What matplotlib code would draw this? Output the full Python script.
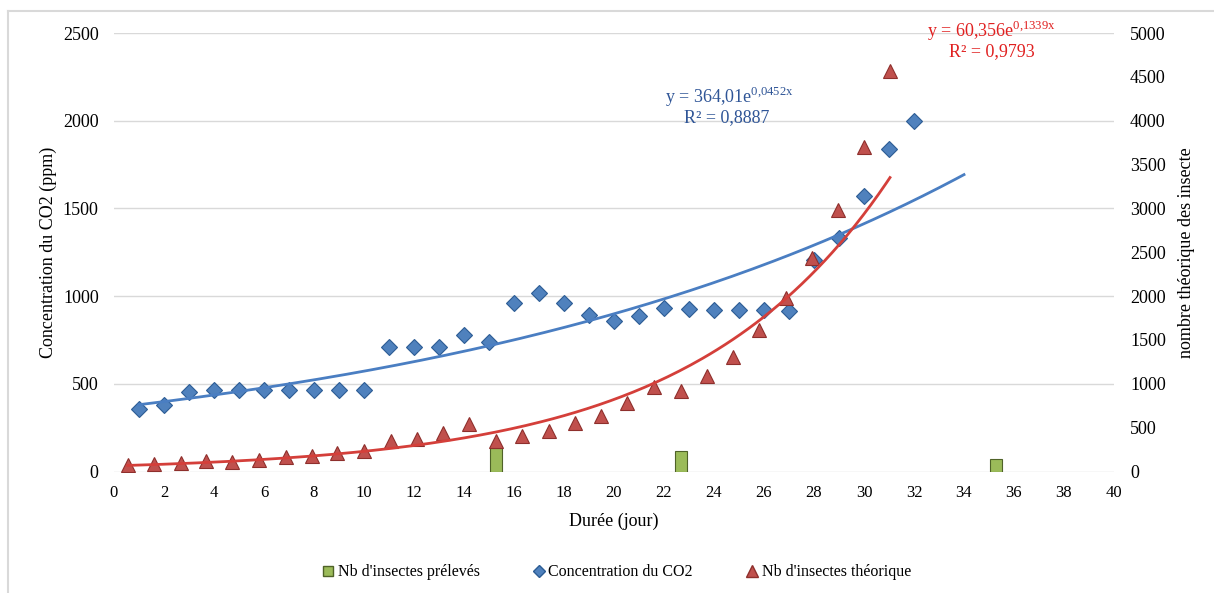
import numpy as np
import matplotlib
matplotlib.use("Agg")
import matplotlib.pyplot as plt
from matplotlib.lines import Line2D

plt.rcParams['font.family'] = ['Liberation Serif', 'DejaVu Serif']
plt.rcParams['mathtext.fontset'] = 'custom'
plt.rcParams['mathtext.rm'] = 'Liberation Serif'

# CO2 concentration (left axis)
co2_days = list(range(1, 33))
co2_ppm = [355, 379, 455, 465, 465, 465, 465, 465, 465, 465, 708, 708, 708, 778, 740, 959,
           1019, 962, 892, 860, 888, 930, 926, 919, 919, 919, 917, 1206, 1329, 1572, 1840, 2000]

# theoretical number of insects (right axis)
theo_days = [0.55, 1.60, 2.68, 3.68, 4.73, 5.81, 6.87, 7.93, 8.93, 10.0, 11.07, 12.13, 13.17,
             14.21, 15.28, 16.30, 17.39, 18.45, 19.48, 20.53, 21.60, 22.67, 23.70, 24.75,
             25.80, 26.88, 27.93, 28.96, 30.0, 31.04]
theo_nb = [74, 82, 93, 120, 112, 131, 162, 177, 207, 230, 351, 367, 443, 542, 351, 405, 462,
           557, 637, 785, 960, 918, 1092, 1309, 1613, 1975, 2435, 2980, 3695, 4570]

# insects sampled
prel_days = [15.28, 22.67, 35.28]
prel_nb = [132, 117, 70]

# exponential trendlines
co2_a, co2_b = 364.01, 0.0452
theo_a, theo_b = 60.356, 0.1339

fig = plt.figure(figsize=(12.14, 5.93), dpi=100)
ax = fig.add_axes([114 / 1214, 121.5 / 593, 1000 / 1214, 438.5 / 593])
ax2 = ax.twinx()

ax.bar(prel_days, prel_nb, width=0.5, color='#9BBB59', edgecolor='#4F6228', linewidth=0.8, zorder=2)
ax.plot(co2_days, co2_ppm, 'D', ms=8.5, color='#4F81BD', mec='#2C5C94', mew=0.8, zorder=3)
xt = np.linspace(1, 34, 200)
ax.plot(xt, co2_a * np.exp(co2_b * xt), color='#4A7EC2', lw=2, zorder=4)

ax2.plot(theo_days, theo_nb, '^', ms=10.5, color='#C0504D', mec='#8E2F2C', mew=0.8, zorder=3)
t = np.linspace(1, 30, 200)
xr = theo_days[0] + (t - 1) * (theo_days[-1] - theo_days[0]) / 29
ax2.plot(xr, theo_a * np.exp(theo_b * t), color='#D43F3A', lw=2, zorder=4)

ax.set_xlim(0, 40)
ax.set_ylim(0, 2500)
ax2.set_ylim(0, 5000)
ax.set_xticks(np.arange(0, 41, 2))
ax.set_yticks(np.arange(0, 2501, 500))
ax2.set_yticks(np.arange(0, 5001, 500))
ax.grid(axis='y', color='#D9D9D9', lw=1)
ax.set_axisbelow(True)
for a in (ax, ax2):
    for s in a.spines.values():
        s.set_visible(False)
ax.tick_params(axis='both', length=0, labelsize=13)
ax.tick_params(axis='y', pad=11)
ax.tick_params(axis='x', pad=10, labelsize=12)
ax2.tick_params(axis='y', length=0, labelsize=13, pad=11.5)

ax.set_xlabel('Durée (jour)', fontsize=13, labelpad=8)
ax.set_ylabel('Concentration du CO2 (ppm)', fontsize=13, labelpad=4)
ax2.set_ylabel('nombre théorique des insecte', fontsize=13, labelpad=8.5)

ax.text(24.6, 2135, r'y = 364,01e$^{\mathrm{0{,}0452x}}$', color='#2F5597', fontsize=13,
        ha='center', va='center')
ax.text(24.5, 2020, 'R² = 0,8887', color='#2F5597', fontsize=13, ha='center', va='center')
ax.text(35.1, 2510, r'y = 60,356e$^{\mathrm{0{,}1339x}}$', color='#E02020', fontsize=13,
        ha='center', va='center', clip_on=False)
ax.text(35.1, 2395, 'R² = 0,9793', color='#E02020', fontsize=13, ha='center', va='center')

handles = [
    Line2D([], [], ls='none', marker='s', ms=7, color='#9BBB59', mec='#4F6228'),
    Line2D([], [], ls='none', marker='D', ms=6.5, color='#4F81BD', mec='#2C5C94'),
    Line2D([], [], ls='none', marker='^', ms=9, color='#C0504D', mec='#8E2F2C'),
]
labels = ["Nb d'insectes prélevés", 'Concentration du CO2', "Nb d'insectes théorique"]
fig.legend(handles, labels, loc='center', bbox_to_anchor=(0.507, 0.035), ncol=3, frameon=False,
           fontsize=11.5, handlelength=1.0, handletextpad=0.1, columnspacing=3.2)

# light chart-area border
fig.add_artist(Line2D([8 / 1214, 8 / 1214], [0, 1 - 11 / 593], color='#D9D9D9', lw=1.5))
fig.add_artist(Line2D([8 / 1214, 1], [1 - 11 / 593, 1 - 11 / 593], color='#D9D9D9', lw=1.5))

fig.savefig('out.png', dpi=100)
